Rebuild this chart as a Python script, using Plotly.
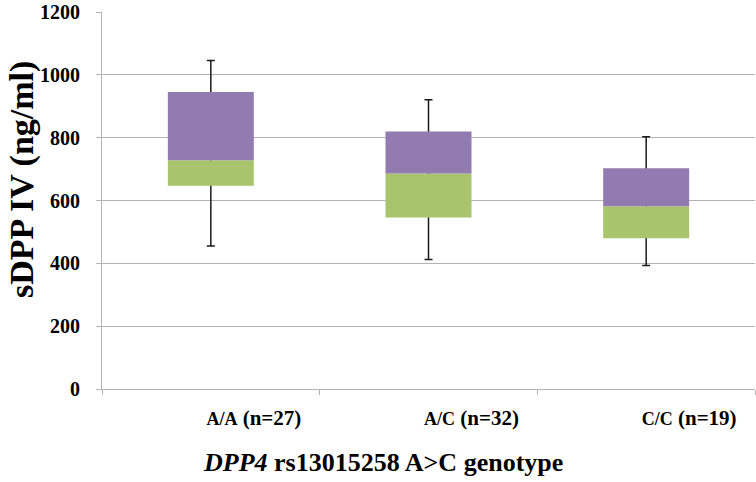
import plotly.graph_objects as go

genotypes = ["A/A", "A/C", "C/C"]
n_counts = ["(n=27)", "(n=32)", "(n=19)"]
whisker_min = [455, 412, 393]
q1 = [647, 546, 480]
median = [728, 686, 582]
q3 = [945, 820, 703]
whisker_max = [1046, 921, 803]
y_ticks = [0, 200, 400, 600, 800, 1000, 1200]

GREEN = "#A8C46C"
PURPLE = "#927BB0"
GRID = "#B4B4B4"
FONT = "Liberation Serif, Times New Roman, serif"

labels = [f"<b><span style='font-size:18px'>{g}</span> {n}</b>" for g, n in zip(genotypes, n_counts)]
y_labels = [f"<b>{v}</b>" for v in y_ticks]

fig = go.Figure()
# whiskers (drawn first so the boxes cover the middle part)
fig.add_trace(go.Bar(
    x=genotypes, base=whisker_min, y=[q - m for q, m in zip(q3, whisker_min)],
    marker=dict(color="rgba(0,0,0,0)", line=dict(width=0)),
    error_y=dict(type="data", symmetric=False,
                 array=[mx - q for mx, q in zip(whisker_max, q3)],
                 arrayminus=[q - m for q, m in zip(q3, whisker_min)],
                 color="#1a1a1a", thickness=1.5, width=4),
    hoverinfo="skip", showlegend=False))
fig.add_trace(go.Bar(
    x=genotypes, base=q1, y=[m - q for m, q in zip(median, q1)],
    marker=dict(color=GREEN, line=dict(width=0)), showlegend=False))
fig.add_trace(go.Bar(
    x=genotypes, base=median, y=[q - m for q, m in zip(q3, median)],
    marker=dict(color=PURPLE, line=dict(width=0)), showlegend=False))

fig.update_layout(
    width=756, height=482,
    margin=dict(l=102, r=1, t=12, b=93),
    barmode="overlay", bargap=0.605,
    plot_bgcolor="white", paper_bgcolor="white",
    font=dict(family=FONT, color="black"),
    xaxis=dict(type="category", range=[-0.5, 2.5], automargin=False,
               tickmode="array", tickvals=genotypes, ticktext=labels,
               tickson="boundaries", ticks="outside", ticklen=5, tickcolor=GRID,
               showline=True, linecolor=GRID, linewidth=1, showgrid=False,
               tickfont=dict(family=FONT, size=21, color="black"),
               ticklabelshift=43, ticklabelstandoff=10),
    yaxis=dict(range=[0, 1200], automargin=False,
               tickmode="array", tickvals=y_ticks, ticktext=y_labels,
               ticks="outside", ticklen=5,
               tickcolor=GRID, showline=True, linecolor=GRID, linewidth=1,
               showgrid=True, gridcolor=GRID, gridwidth=1, zeroline=False,
               tickfont=dict(family=FONT, size=20, color="black"),
               ticklabelstandoff=12, ticklabeloverflow="allow"),
    annotations=[
        dict(text="<b><i>DPP4</i> rs13015258 A&gt;C genotype</b>",
             xref="paper", yref="paper", x=(383 - 102) / 653, y=0,
             xanchor="center", yanchor="top", yshift=-57, showarrow=False,
             font=dict(family=FONT, size=26, color="black")),
        dict(text="<b>sDPP IV (ng/ml)</b>", textangle=-90,
             xref="paper", yref="paper", x=0, y=(389 - 180) / 377,
             xanchor="center", yanchor="middle", xshift=-80, showarrow=False,
             font=dict(family=FONT, size=34, color="black")),
    ],
)

fig.write_html("out.html")
